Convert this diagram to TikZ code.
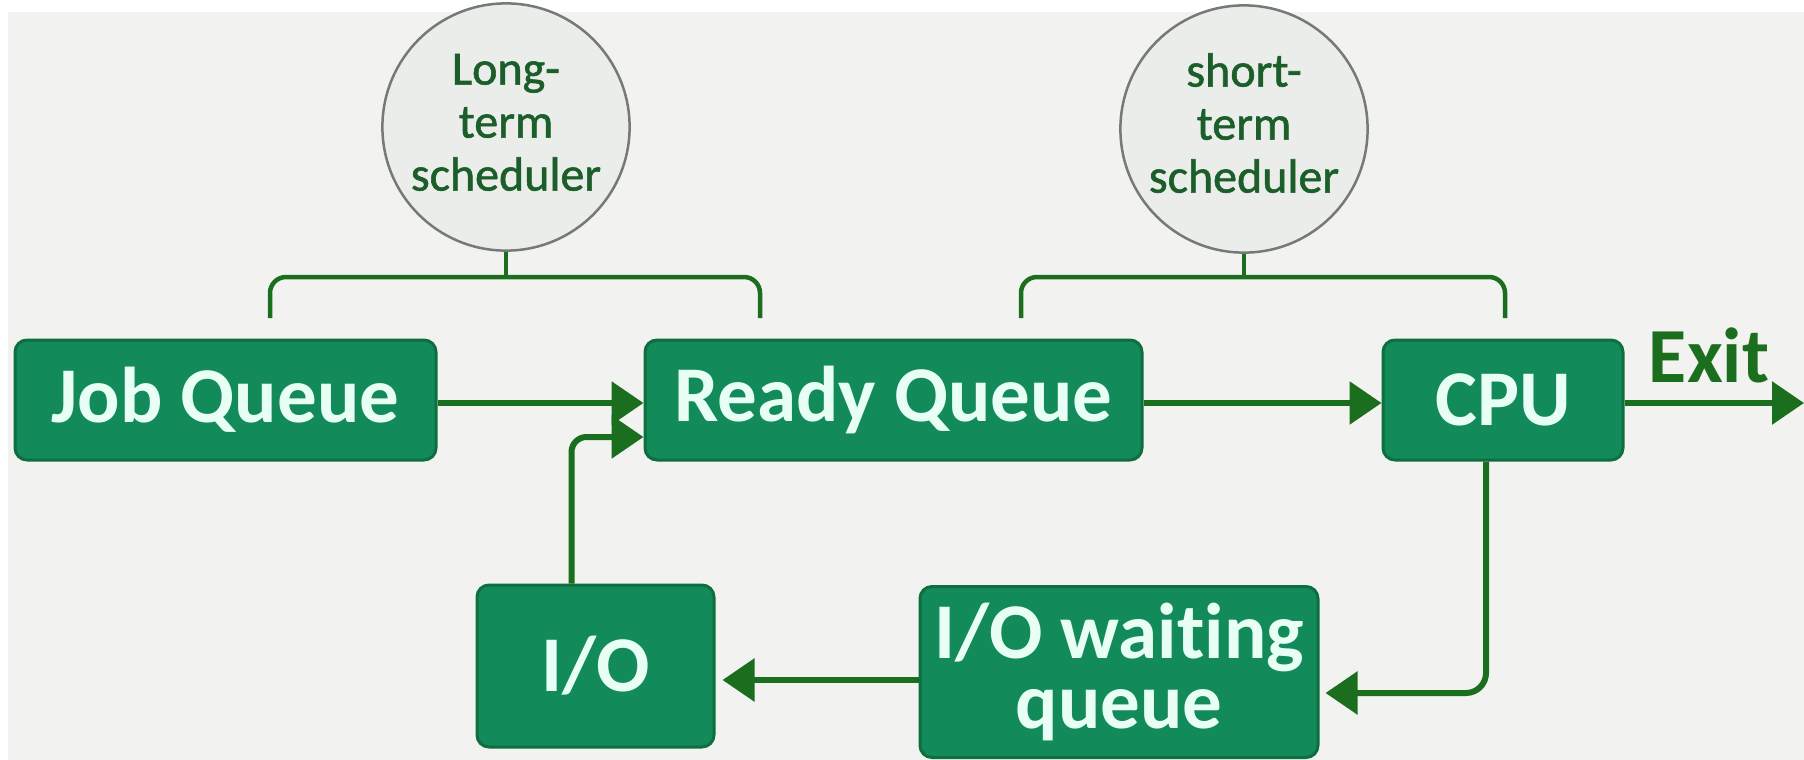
\documentclass[tikz,border=0pt]{standalone}
\usepackage{fontspec}
\setmainfont{Carlito}[Ligatures=NoCommon]
% a slightly heavier cut of the regular face for the scheduler circles
\newfontfamily\schedfont{Carlito}[Ligatures=NoCommon, BoldFont={Carlito}, BoldFeatures={FakeBold=1.2}]
\usetikzlibrary{arrows.meta,calc}

\definecolor{bg}{HTML}{F2F2F0}
\definecolor{boxfill}{HTML}{138A5A}
\definecolor{boxedge}{HTML}{0E6E3E}
\definecolor{boxtext}{HTML}{E8FFF6}
\definecolor{flow}{HTML}{1C6E1F}
\definecolor{ringfill}{HTML}{EAEDEA}
\definecolor{ringedge}{HTML}{767A76}
\definecolor{ringtext}{HTML}{1B5E2A}

% three stacked lines, lifted a little above the centre of the circle
\newcommand{\schedtext}[3]{\raisebox{8pt}{\begin{tabular}{@{}c@{}}#1\\#2\\#3\end{tabular}}}

\begin{document}
\begin{tikzpicture}[x=1pt,y=-1pt,
  queuebox/.style={draw=boxedge, line width=3pt, fill=boxfill, rounded corners=12pt,
    text=boxtext, font=\bfseries\fontsize{79}{70}\selectfont, align=center, inner sep=0pt},
  sched/.style={circle, draw=ringedge, line width=2.5pt, fill=ringfill, minimum size=234pt,
    inner sep=0pt, text=ringtext, font=\schedfont\bfseries\fontsize{48}{53}\selectfont},
  flowarrow/.style={draw=flow, line width=6pt, -{Triangle[length=32pt,width=42pt]}},
  bracket/.style={draw=flow, line width=4.5pt, rounded corners=16pt},
  exitlabel/.style={text=flow, font=\bfseries\fontsize{78}{78}\selectfont, inner sep=0pt}]

% canvas
\useasboundingbox (0,0) rectangle (1804,760);
\fill[white] (0,0) rectangle (1804,760);
\fill[bg] (8,12) rectangle (1804,760);

% queues and processor
\node[queuebox, minimum width=421pt, minimum height=120pt] (jq)  at (225.5,400) {Job Queue};
\node[queuebox, minimum width=497pt, minimum height=120pt] (rq)  at (893.5,400) {Ready Queue};
\node[queuebox, minimum width=240pt, minimum height=120pt] (cpu) at (1503,400) {CPU};
\node[queuebox, minimum width=237pt, minimum height=162pt] (io)  at (595.5,666) {I/O};
\node[queuebox, minimum width=398pt, minimum height=171pt] (iow) at (1119,672) {I/O waiting\\queue};

% schedulers
\node[sched] (lts) at (506,127) {\schedtext{Long-}{term}{scheduler}};
\node[sched] (sts) at (1244,129) {\schedtext{short-}{term}{scheduler}};

% levels of the flow lines
\coordinate (inA)  at (0,403);
\coordinate (inB)  at (0,437);
\coordinate (lowA) at (0,680);
\coordinate (lowB) at (0,693);
\coordinate (exitend) at (1804,403);

% scheduler brackets
\coordinate (ltsBar) at (506,277);
\coordinate (ltsL) at (270,318);
\coordinate (ltsR) at (760,318);
\coordinate (stsBar) at (1244,277);
\coordinate (stsL) at (1021,318);
\coordinate (stsR) at (1505,318);
\draw[bracket] (ltsL) |- (ltsBar) -| (ltsR);
\draw[flow, line width=4.5pt] (lts.south) -- (ltsBar);
\draw[bracket] (stsL) |- (stsBar) -| (stsR);
\draw[flow, line width=4.5pt] (sts.south) -- (stsBar);

% flow between the queues
\draw[flowarrow] (jq.east |- inA) -- (rq.west |- inA);
\draw[flowarrow, rounded corners=15pt] ([xshift=-24pt]io.north) |- (rq.west |- inB);
\draw[flowarrow] (rq.east |- inA) -- (cpu.west |- inA);
\draw[flowarrow] (cpu.east |- inA) -- (exitend);
\draw[flowarrow, rounded corners=20pt] ([xshift=-17pt]cpu.south) |- ([xshift=6pt]iow.east |- lowB);
\draw[flowarrow, shorten >=7pt] (iow.west |- lowA) -- (io.east |- lowA);

\node[exitlabel, anchor=base] (exit) at (1709,382) {Exit};
\end{tikzpicture}
\end{document}
